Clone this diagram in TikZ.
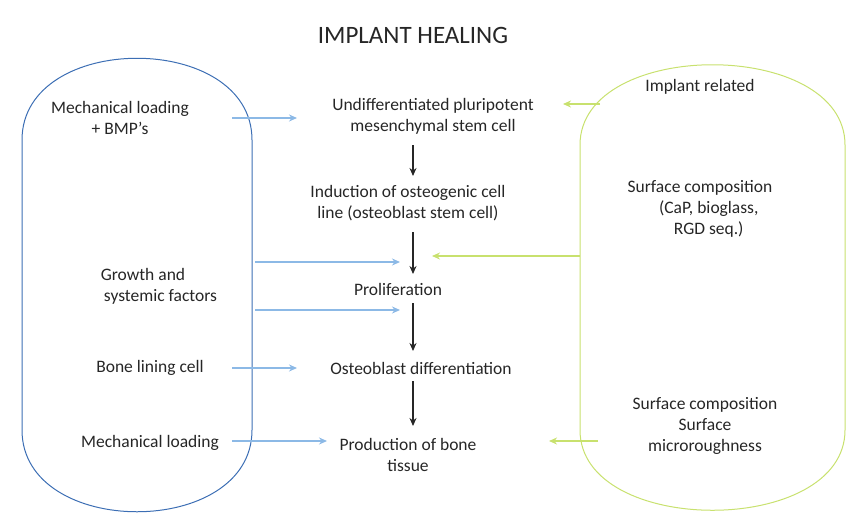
\documentclass[tikz,border=0pt]{standalone}
\usepackage{fontspec}
\setmainfont{Carlito}
\usetikzlibrary{arrows.meta}
\begin{document}
\begin{tikzpicture}[x=1pt,y=-1pt,
 txt/.style={font=\fontsize{17.5}{21}\selectfont,align=center,text=black!85,inner sep=1pt},
 blu/.style={draw={rgb,255:red,140;green,185;blue,230},line width=1.6pt,-{Stealth[length=8pt,width=7pt,open]}},
 grn/.style={draw={rgb,255:red,200;green,225;blue,110},line width=1.6pt,-{Stealth[length=8pt,width=7pt,open]}},
 blk/.style={draw=black!85,line width=1.5pt,-{Stealth[length=8pt,width=7pt]}}]
\useasboundingbox (0,0) rectangle (850,523);
\draw[draw={rgb,255:red,60;green,110;blue,180},line width=1pt] (22,140) .. controls (22,31) and (252,31) .. (252,140) -- (252,430) .. controls (252,539) and (22,539) .. (22,430) -- cycle;
\draw[draw={rgb,255:red,200;green,225;blue,110},line width=1pt] (580,145) .. controls (580,38) and (845,38) .. (845,145) -- (845,430) .. controls (845,537) and (580,537) .. (580,430) -- cycle;
\node[txt,font=\fontsize{25}{30}\selectfont] (t) at (413,35) {IMPLANT HEALING};
\node[txt] (ml) at (120,118) {Mechanical loading\\+ BMP's};
\node[txt] (u) at (433,116) {Undifferentiated pluripotent\\mesenchymal stem cell};
\node[txt] (ir) at (700,87) {Implant related};
\node[txt] (i) at (408,203) {Induction of osteogenic cell\\line (osteoblast stem cell)};
\node[txt] (sc) at (700,209) {Surface composition\\\hspace*{1em}(CaP, bioglass,\\\hspace*{1em}RGD seq.)};
\node[txt] (g) at (143,286) {Growth and\\\hspace*{2em}systemic factors};
\node[txt] (p) at (398,289) {Proliferation};
\node[txt] (bl) at (150,368) {Bone lining cell};
\node[txt] (o) at (421,368) {Osteoblast differentiation};
\node[txt] (m2) at (150,443) {Mechanical loading};
\node[txt] (pb) at (408,455) {Production of bone\\tissue};
\node[txt] (s2) at (705,426) {Surface composition\\Surface\\microroughness};
\coordinate (a1) at (232,118); \coordinate (a1e) at (297,118);
\draw[blu] (a1) -- (a1e);
\coordinate (g1) at (600,104); \coordinate (g1e) at (563,104);
\draw[grn] (g1) -- (g1e);
\draw[blk] (413,145) -- (413,176);
\draw[blk] (413,232) -- (413,274);
\coordinate (b2) at (255,262); \coordinate (b2e) at (400,262);
\draw[blu] (b2) -- (b2e);
\coordinate (b3) at (255,310); \coordinate (b3e) at (400,310);
\draw[blu] (b3) -- (b3e);
\coordinate (g2) at (580,256); \coordinate (g2e) at (432,256);
\draw[grn] (g2) -- (g2e);
\draw[blk] (413,303) -- (413,351);
\coordinate (b4) at (232,368); \coordinate (b4e) at (297,368);
\draw[blu] (b4) -- (b4e);
\draw[blk] (413,381) -- (413,426);
\coordinate (b5) at (232,441); \coordinate (b5e) at (327,441);
\draw[blu] (b5) -- (b5e);
\coordinate (g3) at (598,441); \coordinate (g3e) at (549,441);
\draw[grn] (g3) -- (g3e);
\end{tikzpicture}
\end{document}
